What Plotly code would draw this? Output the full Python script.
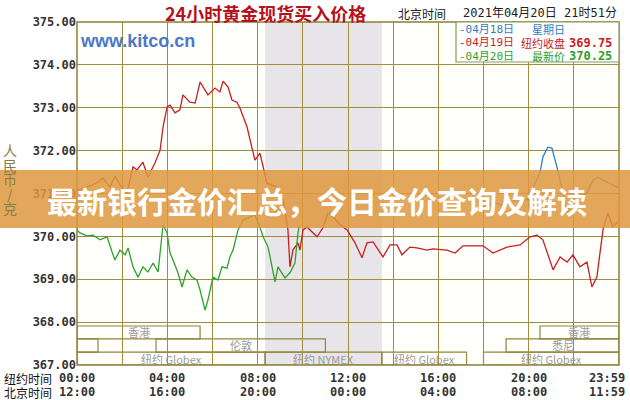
import plotly.graph_objects as go

# ---------------- data ----------------
y_ticks = [367, 368, 369, 370, 371, 372, 373, 374, 375]
x_tick_pos = [0, 4, 8, 12, 16, 20, 24]
x_tick_ny = ["00:00", "04:00", "08:00", "12:00", "16:00", "20:00", "23:59"]
x_tick_bj = ["12:00", "16:00", "20:00", "00:00", "04:00", "08:00", "11:59"]

# 04月19日 (NY time hours, price)
red_t = [0.0, 0.45, 0.89, 1.15, 1.46, 1.68, 1.90, 2.21, 2.48, 2.66, 2.92, 3.14, 3.45, 3.68, 3.81, 3.99,
         4.12, 4.34, 4.56, 4.69, 5.00, 5.23, 5.45, 5.58, 5.80, 6.11, 6.33, 6.47, 6.69, 6.86, 7.08, 7.22,
         7.53, 7.75, 7.88, 8.10, 8.24, 8.41, 8.86, 9.12, 9.34, 9.43, 9.56, 9.79, 9.87, 10.01, 10.18,
         10.41, 10.63, 10.89, 11.11, 11.34, 11.65, 11.96, 12.31, 12.62, 12.84, 13.11, 13.55, 13.86,
         14.17, 14.39, 14.74, 15.05, 15.50, 15.76, 16.38, 16.74, 17.09, 17.98, 18.42, 19.04, 19.62,
         20.06, 20.37, 20.63, 21.08, 21.39, 21.70, 21.96, 22.27, 22.58, 22.80, 23.02, 23.29, 23.51,
         23.73, 23.95]
red_v = [371.08, 371.15, 371.25, 371.36, 371.15, 371.41, 371.20, 371.01, 371.62, 371.55, 371.73, 371.38,
         371.71, 372.01, 372.55, 373.02, 373.06, 372.88, 372.95, 373.30, 373.13, 373.11, 373.60, 373.48,
         373.30, 373.46, 373.37, 373.62, 373.48, 373.18, 373.13, 372.99, 372.55, 372.06, 371.78, 371.94,
         371.59, 371.24, 371.15, 370.85, 370.15, 369.29, 369.68, 369.85, 369.68, 370.15, 370.22, 370.10,
         369.99, 370.20, 370.55, 370.45, 370.27, 370.15, 369.85, 369.50, 369.85, 369.87, 369.52, 369.80,
         369.80, 369.57, 369.75, 369.73, 369.68, 369.71, 369.68, 369.61, 369.78, 369.78, 369.61, 369.75,
         369.80, 369.99, 370.03, 369.92, 369.22, 369.52, 369.40, 369.57, 369.29, 369.40, 368.82, 369.05,
         370.15, 370.55, 370.22, 370.34]

# 04月18日
blue_t = [18.0, 18.5, 18.95, 19.39, 19.92, 20.5, 20.63, 20.85, 21.03, 21.25, 21.52, 21.70, 21.96, 22.27,
          22.58, 22.85, 23.07, 23.29, 23.60, 23.95]
blue_v = [370.69, 370.78, 370.71, 370.85, 370.85, 371.48, 371.85, 372.08, 372.06, 371.62, 371.01, 370.55,
          370.85, 370.92, 371.01, 371.31, 371.38, 371.31, 371.24, 371.13]

# 04月20日
green_t = [0.0, 0.13, 0.44, 0.71, 1.02, 1.33, 1.55, 1.68, 1.90, 2.13, 2.26, 2.48, 2.70, 2.92, 3.14, 3.37,
           3.59, 3.81, 3.99, 4.12, 4.25, 4.47, 4.65, 4.87, 5.09, 5.31, 5.45, 5.67, 5.80, 6.02, 6.24, 6.42,
           6.64, 6.77, 6.91, 7.13, 7.35, 7.66, 7.88, 8.10, 8.24, 8.46, 8.63, 8.77, 8.90, 9.08, 9.21, 9.43,
           9.65, 9.79, 9.85]
green_v = [370.15, 370.08, 370.01, 370.03, 369.92, 369.99, 369.64, 369.45, 369.68, 369.57, 369.73, 369.29,
           369.05, 369.29, 369.17, 369.38, 369.17, 370.27, 370.08, 369.61, 369.45, 369.15, 368.82, 369.22,
           369.05, 368.98, 368.75, 368.28, 368.52, 369.05, 368.98, 369.29, 369.26, 369.52, 369.68, 370.15,
           370.38, 370.45, 370.50, 370.22, 369.99, 369.75, 369.29, 368.94, 369.29, 369.15, 369.03, 369.15,
           369.38, 370.10, 370.25]

# trading sessions: label, row, start hour, end hour
session_label = ["香港", "", "伦敦", "纽约 Globex", "纽约 NYMEX", "纽约 Globex", "纽约 Globex", "悉尼", "香港"]
session_row = [0, 1, 1, 2, 2, 2, 2, 1, 0]
session_start = [0.0, 0.0, 3.5, 0.0, 8.33, 13.5, 18.0, 19.0, 20.5]
session_end = [5.45, 0.93, 11.0, 8.33, 13.5, 17.25, 24.0, 24.0, 24.0]

nymex_start, nymex_end = 8.33, 13.5

# ---------------- layout helpers ----------------
L, R, T, B = 77, 619, 22, 365
W, H = R - L, B - T


def px(x):
    return (x - L) / W


def py(y):
    return (B - y) / H


OLIVE = "#a08e3e"
MONO = "DejaVu Sans Mono"
CJK = "Noto Sans CJK SC"

fig = go.Figure()
fig.add_trace(go.Scatter(x=blue_t, y=blue_v, mode="lines", line=dict(color="#2b7fc4", width=1.3)))
fig.add_trace(go.Scatter(x=red_t, y=red_v, mode="lines", line=dict(color="#c81e1e", width=1.3)))
fig.add_trace(go.Scatter(x=green_t, y=green_v, mode="lines", line=dict(color="#2ea02e", width=1.3)))

shapes = []
shapes.append(dict(type="rect", xref="x", yref="y", x0=nymex_start, x1=nymex_end, y0=367, y1=375,
                   fillcolor="#e7e5e9", line=dict(width=0), layer="below"))
row_top = [367.91, 367.61, 367.30]
row_bot = [367.61, 367.30, 367.0]
annotations = []


def ann(x, y, text, font, xanchor="center", yanchor="middle", xref="paper", yref="paper", **kw):
    d = dict(x=x, y=y, xref=xref, yref=yref, text=text, showarrow=False, font=font,
             xanchor=xanchor, yanchor=yanchor)
    d.update(kw)
    annotations.append(d)


for lab, r, s, e in zip(session_label, session_row, session_start, session_end):
    shapes.append(dict(type="rect", xref="x", yref="y", x0=s, x1=e, y0=row_bot[r], y1=row_top[r],
                       line=dict(color="#8f8540", width=1.2), fillcolor="rgba(0,0,0,0)", layer="below"))
    if lab:
        ann((s + e) / 2, (row_top[r] + row_bot[r]) / 2, lab,
            dict(family=CJK, size=11, color="#9a9a9a"), xref="x", yref="y")

shapes.append(dict(type="rect", xref="paper", yref="paper", x0=0, x1=1, y0=0, y1=1,
                   line=dict(color="#8f7f35", width=1.5), layer="above"))
shapes.append(dict(type="rect", xref="paper", yref="paper", x0=px(456), x1=px(619), y0=py(62), y1=py(22),
                   fillcolor="white", line=dict(color="#8c9a52", width=1.2), layer="above"))
shapes.append(dict(type="rect", xref="paper", yref="paper", x0=px(0), x1=px(630), y0=py(228), y1=py(170),
                   fillcolor="rgba(222,152,62,0.85)", line=dict(width=0), layer="above"))

tick_font = dict(family=MONO, size=12, color="#333", weight="bold")
for i, (p, a, b) in enumerate(zip(x_tick_pos, x_tick_ny, x_tick_bj)):
    shift = -12 if i == len(x_tick_pos) - 1 else 0
    ann(p, py(378), a, tick_font, xref="x", xshift=shift)
    ann(p, py(392), b, tick_font, xref="x", xshift=shift)
ann(px(2), py(378), "纽约时间", dict(family=CJK, size=12, color="#111"), xanchor="left")
ann(px(2), py(392), "北京时间", dict(family=CJK, size=12, color="#111"), xanchor="left")

for k, ch in enumerate("人民币/克"):
    ann(px(10), py(150 + 14.5 * k), ch, dict(family=CJK, size=14, color="#8b7d45"))

ann(px(265), py(13), "24小时黄金现货买入价格", dict(family=CJK, size=18, color="#b5121b", weight="bold"))
ann(px(396), py(13), "北京时间", dict(family=CJK, size=12, color="#222"), xanchor="left")
ann(px(461), py(13), "2021年04月20日 21时51分", dict(family=MONO + ", " + CJK, size=12, color="#222"),
    xanchor="left")
ann(px(78), py(41), "www.kitco.cn", dict(family="Liberation Sans", size=18, color="#4a78c8", weight="bold"),
    xanchor="left")

leg = [("-04月18日", "星期日", "", "#2b7fc4", 29),
       ("-04月19日", "纽约收盘", "369.75", "#c81e1e", 43),
       ("-04月20日", "最新价", "370.25", "#2ea02e", 56)]
for d, lab, val, col, yy in leg:
    ann(px(457), py(yy), d, dict(family=MONO + ", " + CJK, size=11, color=col), xanchor="left")
    ann(px(567), py(yy), lab, dict(family=CJK, size=11, color=col), xanchor="right")
    if val:
        ann(px(614), py(yy), val, dict(family=MONO, size=12, color=col, weight="bold"), xanchor="right")

ann(px(317), py(200), "最新银行金价汇总，今日金价查询及解读", dict(family=CJK, size=30, color="white", weight="bold"))

fig.update_layout(
    width=630, height=400,
    margin=dict(l=L, r=630 - R, t=T, b=400 - B),
    paper_bgcolor="white", plot_bgcolor="#fffffb",
    showlegend=False,
    shapes=shapes, annotations=annotations,
    xaxis=dict(range=[0, 24], tickvals=list(range(0, 25, 2)), showticklabels=False, showgrid=True,
               gridcolor=OLIVE, gridwidth=1, zeroline=False, ticks="", fixedrange=True),
    yaxis=dict(range=[367, 375], tickvals=y_ticks, ticktext=[f"{v:.2f}" for v in y_ticks],
               showgrid=True, gridcolor=OLIVE, gridwidth=1, zeroline=False, ticks="",
               tickfont=dict(family=MONO, size=12, color="#333", weight="bold"), fixedrange=True),
)

fig.write_html("out.html", config={"displayModeBar": False},
               post_script="document.body.style.margin='0';")
